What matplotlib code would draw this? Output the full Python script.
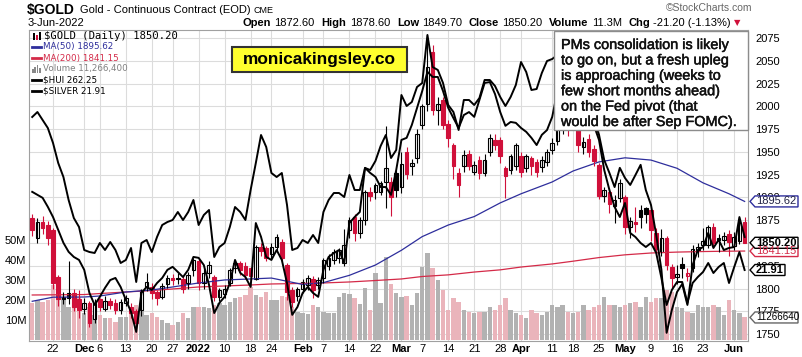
import numpy as np
import pandas as pd
import matplotlib
matplotlib.use("Agg")
import matplotlib.pyplot as plt
import matplotlib.patheffects as pe
from matplotlib.patches import Polygon, Rectangle
from matplotlib.lines import Line2D
from matplotlib.transforms import IdentityTransform

plt.rcParams["font.family"] = ["Liberation Sans", "DejaVu Sans"]

# ── data ───────────────────────────────────────────────────────────────────
START, END = "2021-11-16", "2022-06-03"
HOLIDAYS = ["2021-11-25", "2021-12-24", "2022-01-17", "2022-02-21",
            "2022-04-15", "2022-05-30"]
PREV_CLOSE = 1868.0

opens = [
    1877, 1855, 1873, 1870, 1864, 1813, 1791, 1795, 1795, 1788,
    1778, 1784, 1767, 1788, 1778, 1786, 1784, 1776, 1784, 1780,
    1775, 1776, 1802, 1802, 1796, 1791, 1805, 1812, 1812, 1810,
    1806, 1820, 1830, 1806, 1817, 1813, 1791, 1794, 1806, 1823,
    1828, 1825, 1822, 1811, 1846, 1844, 1838, 1846, 1851, 1826,
    1798, 1792, 1800, 1804, 1811, 1804, 1812, 1825, 1831, 1834,
    1828, 1864, 1879, 1861, 1875, 1906, 1906, 1906, 1917, 1917,
    1927, 1912, 1950, 1934, 1943, 1980, 2003, 2060, 1996, 2007,
    1981, 1958, 1927, 1934, 1948, 1928, 1941, 1927, 1950, 1963,
    1963, 1932, 1930, 1934, 1946, 1932, 1943, 1939, 1933, 1939,
    1952, 1962, 1977, 1983, 1978, 1985, 1955, 1964, 1953, 1936,
    1902, 1906, 1891, 1899, 1900, 1868, 1873, 1886, 1888, 1886,
    1861, 1840, 1855, 1824, 1813, 1827, 1814, 1823, 1842, 1848,
    1848, 1868, 1856, 1853, 1860, 1847, 1852, 1872.6]
highs = [
    1882, 1877, 1880, 1874, 1866, 1815, 1796, 1830, 1800, 1798,
    1790, 1786, 1788, 1790, 1792, 1790, 1788, 1789, 1793, 1784,
    1777, 1800, 1817, 1806, 1798, 1806, 1815, 1816, 1817, 1814,
    1818, 1834, 1833, 1823, 1830, 1815, 1801, 1804, 1822, 1830,
    1830, 1829, 1824, 1848, 1850, 1847, 1850, 1860, 1854, 1828,
    1802, 1802, 1810, 1815, 1814, 1813, 1834, 1838, 1843, 1845,
    1865, 1878, 1882, 1878, 1908, 1912, 1916, 1918, 1978, 1922,
    1930, 1950, 1955, 1942, 1975, 2003, 2079, 2067, 2010, 2010,
    1985, 1960, 1932, 1952, 1952, 1940, 1945, 1948, 1970, 1970,
    1966, 1935, 1948, 1960, 1950, 1948, 1946, 1942, 1945, 1953,
    1965, 1982, 1990, 1988, 2003, 1990, 1966, 1970, 1958, 1938,
    1912, 1910, 1903, 1920, 1903, 1878, 1890, 1892, 1890, 1889,
    1866, 1865, 1858, 1827, 1826, 1835, 1822, 1848, 1850, 1866,
    1870, 1872, 1860, 1862, 1864, 1862, 1874, 1878.6]
lows = [
    1858, 1850, 1860, 1848, 1800, 1781, 1783, 1783, 1775, 1768,
    1772, 1758, 1762, 1775, 1775, 1778, 1772, 1772, 1781, 1768,
    1753, 1770, 1797, 1788, 1782, 1788, 1801, 1804, 1805, 1795,
    1800, 1814, 1798, 1800, 1812, 1786, 1786, 1790, 1803, 1817,
    1815, 1810, 1809, 1809, 1836, 1830, 1832, 1840, 1830, 1787,
    1780, 1786, 1795, 1798, 1790, 1800, 1806, 1820, 1827, 1828,
    1825, 1855, 1852, 1855, 1870, 1896, 1898, 1903, 1888, 1880,
    1900, 1905, 1920, 1925, 1938, 1975, 1995, 1990, 1980, 1975,
    1955, 1920, 1900, 1928, 1930, 1925, 1920, 1924, 1945, 1952,
    1938, 1899, 1926, 1930, 1922, 1928, 1925, 1922, 1928, 1935,
    1948, 1958, 1970, 1967, 1975, 1950, 1948, 1944, 1935, 1898,
    1895, 1883, 1872, 1895, 1860, 1855, 1862, 1866, 1872, 1852,
    1836, 1836, 1820, 1800, 1805, 1812, 1808, 1818, 1835, 1842,
    1845, 1845, 1840, 1848, 1836, 1842, 1849, 1849.7]
closes = [
    1864, 1873, 1866, 1855, 1806, 1788, 1789, 1790, 1780, 1776,
    1784, 1762, 1784, 1780, 1786, 1782, 1776, 1785, 1790, 1773,
    1762, 1798, 1807, 1795, 1790, 1803, 1812, 1809, 1811, 1800,
    1815, 1831, 1806, 1817, 1826, 1791, 1798, 1800, 1820, 1828,
    1820, 1815, 1814, 1846, 1841, 1833, 1846, 1857, 1833, 1796,
    1785, 1800, 1807, 1812, 1798, 1809, 1831, 1834, 1840, 1842,
    1848, 1875, 1861, 1875, 1906, 1902, 1914, 1916, 1932, 1900,
    1908, 1937, 1926, 1938, 1970, 2000, 2043, 1996, 2003, 1980,
    1965, 1934, 1914, 1947, 1934, 1936, 1927, 1941, 1965, 1958,
    1945, 1923, 1945, 1958, 1928, 1945, 1934, 1928, 1941, 1950,
    1960, 1980, 1985, 1975, 1986, 1958, 1961, 1950, 1940, 1902,
    1908, 1893, 1897, 1916, 1868, 1874, 1871, 1878, 1882, 1864,
    1843, 1855, 1826, 1812, 1816, 1823, 1817, 1843, 1846, 1852,
    1867, 1850, 1853, 1858, 1851, 1857, 1871.4, 1850.2]
volume_m = [
    18.5, 20, 19, 20, 27.5, 25, 21.7, 16.7, 20, 21.7,
    13.3, 16.7, 12.5, 12.5, 10.8, 10.8, 9.2, 11.7, 11.5, 15,
    17.5, 15, 12.5, 13.3, 11.7, 10, 8.3, 7.5, 9.2, 13.3,
    10.8, 16.7, 16.7, 16.7, 15.8, 17.5, 18.3, 17.5, 19.2, 20.8,
    21.7, 22.5, 26.7, 22.5, 21.7, 24.2, 20, 20, 22, 21.7,
    16.7, 14.2, 13.3, 13, 17.5, 16.7, 14.2, 13.3, 13.3, 21.7,
    23.3, 23, 21, 18, 25.8, 15, 33.3, 18.3, 41.7, 28,
    23.5, 21.7, 22, 17.5, 23.3, 36.7, 43.3, 35.8, 30, 25,
    15, 20.8, 19.2, 15, 14.2, 13.3, 14.2, 14.2, 16.7, 15,
    17.5, 20.8, 15, 13.3, 12.5, 10.8, 15, 13.3, 12.5, 14.2,
    17.5, 16.7, 17.5, 14.2, 13.3, 14.2, 17.5, 15, 16.7, 17.5,
    21.7, 17.5, 17.5, 16.7, 17.5, 18.3, 19.2, 16.7, 21.7, 19.2,
    20.8, 20.8, 25, 24, 16.7, 15.8, 14.2, 13.3, 17.5, 16.7,
    16.7, 17.5, 16.7, 12.5, 20, 15, 13.3, 11.27]
hui = [
    277.3, 276.3, 275.3, 272.3, 268.9, 264.6, 260.3, 257.3, 255.6, 254.6,
    251.3, 243.6, 239.6, 242.3, 245.3, 247.9, 248.6, 245.6, 241.3, 237.3,
    230.6, 243.6, 245.6, 244.6, 246.9, 248.6, 251.3, 252.3, 250.6, 248.9,
    251.3, 255.6, 255.3, 252.9, 246.3, 236.9, 240.3, 242.3, 246.9, 254.6,
    250.3, 248.9, 245.6, 266.9, 262.3, 255.6, 254.6, 257.9, 254.6, 246.9,
    236.3, 238.9, 243.6, 245.6, 243.6, 242.3, 251.3, 255.6, 256.9, 257.9,
    253.6, 266.9, 268.9, 270.6, 285.3, 283.6, 282.3, 278.9, 278.9, 276.3,
    284.6, 294.6, 295.3, 299.6, 305.3, 310.9, 317.3, 315.6, 315.6, 310.9,
    305.3, 301.9, 298.6, 302.9, 303.9, 302.3, 307.9, 313.6, 313.9, 309.9,
    303.9, 299.3, 300.6, 300.3, 298.6, 297.3, 295.3, 292.9, 296.3, 297.9,
    302.3, 310.9, 324.6, 327.9, 328.6, 322.9, 317.9, 309.6, 301.3, 296.3,
    287.9, 283.6, 278.9, 285.3, 281.9, 279.6, 282.9, 286.3, 277.9, 272.9,
    262.9, 251.3, 230.3, 237.9, 243.9, 246.6, 239.6, 252.9, 257.9, 258.9,
    263.6, 258.6, 261.3, 257.9, 258.6, 258.9, 268.9, 262.25]
silver = [
    24.97, 25.07, 24.91, 24.75, 24.45, 24.05, 23.77, 23.31, 22.95, 22.77,
    22.31, 22.27, 22.25, 22.45, 22.31, 22.47, 22.31, 22.05, 22.11, 22.35,
    21.67, 22.45, 22.51, 22.27, 22.57, 22.81, 22.87, 22.91, 23.07, 22.91,
    23.07, 23.31, 22.81, 23.01, 23.11, 22.17, 22.37, 22.45, 22.77, 23.17,
    23.07, 22.91, 23.51, 24.05, 24.61, 24.37, 23.85, 23.77, 23.85, 23.21,
    22.31, 22.35, 22.51, 22.45, 22.61, 22.45, 23.07, 23.31, 23.45, 23.45,
    23.37, 23.81, 23.51, 23.51, 23.95, 23.91, 24.09, 24.39, 24.61, 24.15,
    24.31, 25.41, 25.19, 25.27, 25.57, 25.65, 26.61, 25.97, 25.91, 25.65,
    25.21, 25.07, 24.71, 25.31, 25.31, 25.21, 25.35, 25.71, 25.71, 25.59,
    25.37, 25.19, 25.37, 25.61, 26.07, 25.87, 25.51, 25.53, 25.85, 26.09,
    26.13, 26.21, 26.27, 26.41, 26.41, 26.07, 25.81, 25.31, 24.81, 24.51,
    23.91, 23.51, 23.17, 22.97, 23.25, 22.65, 22.57, 22.45, 22.37, 22.45,
    22.25, 21.75, 21.21, 21.51, 21.67, 21.67, 21.25, 21.65, 21.77, 21.87,
    22.05, 21.85, 21.97, 22.05, 21.65, 21.97, 22.27, 21.91]

ma_dates = ["2021-11-16", "2021-11-22", "2021-12-01", "2021-12-06", "2021-12-13",
            "2021-12-20", "2021-12-27", "2022-01-03", "2022-01-10", "2022-01-18",
            "2022-01-24", "2022-02-01", "2022-02-07", "2022-02-14", "2022-02-22",
            "2022-03-01", "2022-03-07", "2022-03-14", "2022-03-21", "2022-03-28",
            "2022-04-01", "2022-04-11", "2022-04-18", "2022-04-25", "2022-05-02",
            "2022-05-09", "2022-05-16", "2022-05-23", "2022-05-31", "2022-06-03"]
ma50 = [1786, 1790.5, 1790.7, 1791.8, 1796.2, 1798.4, 1801.7, 1806.1, 1809.4, 1810.5,
        1811.5, 1804.5, 1806.5, 1814.5, 1825.8, 1842, 1857, 1869.7, 1879, 1894,
        1904, 1917, 1929, 1939, 1943.5, 1941, 1932, 1916, 1904, 1895.62]
ma200 = [1792.9, 1793.1, 1793.4, 1794.5, 1796.2, 1797.8, 1799.5, 1801.7, 1802.8, 1803.9,
         1805, 1805.6, 1806.1, 1807.2, 1808.8, 1810.5, 1813.2, 1815, 1818.1, 1820.5,
         1823.6, 1827, 1830, 1834, 1837, 1839, 1840, 1840.6, 1841, 1841.15]

tick_dates = ["2021-11-22", "2021-12-01", "2021-12-06", "2021-12-13", "2021-12-20",
              "2021-12-27", "2022-01-03", "2022-01-10", "2022-01-18", "2022-01-24",
              "2022-02-01", "2022-02-07", "2022-02-14", "2022-02-22", "2022-03-01",
              "2022-03-07", "2022-03-14", "2022-03-21", "2022-03-28", "2022-04-01",
              "2022-04-11", "2022-04-18", "2022-04-25", "2022-05-02", "2022-05-09",
              "2022-05-16", "2022-05-23", "2022-06-01"]
tick_labels = ["22", "Dec", "6", "13", "20", "27", "2022", "10", "18", "24",
               "Feb", "7", "14", "22", "Mar", "7", "14", "21", "28", "Apr",
               "11", "18", "25", "May", "9", "16", "23", "Jun"]

note_lines = ["PMs consolidation is likely",
              "to go on, but a fresh upleg",
              "is approaching (weeks to",
              "few short months ahead)",
              "on the Fed pivot (that",
              "would be after Sep FOMC)."]

# ── styling ────────────────────────────────────────────────────────────────
RED = "#d0103a"
PINK = "#eab4bb"
VOL_GRAY = "#b2b2b2"
BLUE = "#2e2e9c"
MA200_RED = "#d42a48"

W, H = 803, 357
PRICE_LIM = (1742.4, 2083.8)
VOL_LIM = (-0.5, 155)
SILVER_LIM = (20.49, 26.71)
HUI_LIM = (227.58, 331.25)

dates = pd.bdate_range(START, END)
dates = dates[~dates.isin(pd.to_datetime(HOLIDAYS))]
x = np.arange(len(dates))
pos = {d.strftime("%Y-%m-%d"): i for i, d in enumerate(dates)}

o, hi, lo, c = map(np.asarray, (opens, highs, lows, closes))
prev = np.r_[PREV_CLOSE, c[:-1]]
down = c < prev
edge = np.where(down, RED, "black")
fill = np.where(c >= o, "white", edge)
vol_col = np.where(down, PINK, VOL_GRAY)


def fpx(xp, yp):
    """pixel position measured from the top-left -> figure fraction"""
    return xp / W, 1 - yp / H


fig = plt.figure(figsize=(W / 100, H / 100), dpi=100)
rect = [29 / W, 1 - 341 / H, 719 / W, 311 / H]

# base axes: background, grid, frame, tick labels
ax = fig.add_axes(rect)
ax.set_xlim(-0.62, 137.65)
ax.set_ylim(*PRICE_LIM)
price_ticks = np.arange(1750, 2076, 25)
ax.set_yticks(price_ticks)
# 1850 sits fully under the last-close tag, as on the reference
ax.set_yticklabels(["" if v == 1850 else str(v) for v in price_ticks])
ax.yaxis.tick_right()
ax.tick_params(axis="y", length=0, pad=5, labelsize=8)
ax.set_xticks([pos[d] for d in tick_dates])
ax.set_xticklabels(tick_labels)
ax.tick_params(axis="x", length=0, pad=2, labelsize=8)
for lbl in ax.get_xticklabels():
    if not lbl.get_text().isdigit() or lbl.get_text() == "2022":
        lbl.set_fontweight("bold")
ax.grid(True, color="#dcdcdc", lw=0.8)
for s in ax.spines.values():
    s.set_color("#a0a0a0")
    s.set_linewidth(0.8)

# volume
axv = fig.add_axes(rect, sharex=ax)
axv.patch.set_visible(False)
axv.set_ylim(*VOL_LIM)
axv.bar(x, volume_m, width=0.86, color=vol_col, lw=0)
for s in axv.spines.values():
    s.set_visible(False)
axv.set_yticks([10, 20, 30, 40, 50])
axv.set_yticklabels([f"{v}M" for v in (10, 20, 30, 40, 50)])
axv.tick_params(axis="y", length=0, pad=2, labelsize=8)
axv.tick_params(axis="x", bottom=False, labelbottom=False)

# price: moving averages + candles
axp = fig.add_axes(rect, sharex=ax, sharey=ax)
axp.axis("off")
ma_x = [pos[d] for d in ma_dates]
axp.plot(ma_x, ma200, color=MA200_RED, lw=0.9)
axp.plot(ma_x, ma50, color=BLUE, lw=0.9)
axp.vlines(x, lo, hi, colors=edge, lw=0.8)
axp.bar(x, np.maximum(np.abs(c - o), 0.6), bottom=np.minimum(o, c),
        width=0.72, color=fill, edgecolor=edge, lw=0.8)

# overlays
axs = fig.add_axes(rect, sharex=ax)
axs.axis("off")
axs.set_ylim(*SILVER_LIM)
axs.plot(x, silver, color="black", lw=1.4)
axh = fig.add_axes(rect, sharex=ax)
axh.axis("off")
axh.set_ylim(*HUI_LIM)
axh.plot(x, hui, color="black", lw=1.4)

# ── right-hand value tags ──────────────────────────────────────────────────
def value_tag(axis, value, text, edgecol, txtcol="black", bold=False,
              right=798, size=8):
    yd = axis.transData.transform((0, value))[1]
    h = 5.5
    pts = [(750, yd), (755, yd + h), (right, yd + h), (right, yd - h), (755, yd - h)]
    fig.add_artist(Polygon(pts, closed=True, transform=IdentityTransform(),
                           facecolor="white", edgecolor=edgecol, lw=1, zorder=10))
    fig.text(756 / W, yd / H, text, va="center", ha="left", fontsize=size,
             color=txtcol, fontweight="bold" if bold else "normal", zorder=11)


value_tag(axp, 1895.62, "1895.62", BLUE, "#222244")
value_tag(axp, 1841.15, "1841.15", MA200_RED, MA200_RED)
value_tag(axp, 1850.20, "1850.20", "black", bold=True)
value_tag(axs, 21.91, "21.91", "black", bold=True, right=785)
value_tag(axv, 11.26664, "11266640", "#666666", size=7.1)

# ── header ─────────────────────────────────────────────────────────────────
fig.text(*fpx(27, 10), "$GOLD", fontsize=10, fontweight="bold", va="center")
fig.text(*fpx(80, 10), "Gold - Continuous Contract (EOD)", fontsize=8, va="center")
fig.text(*fpx(254, 10.5), "CME", fontsize=6.5, va="center")
fig.text(*fpx(28, 23), "3-Jun-2022", fontsize=8, va="center")
fig.text(*fpx(752, 8), "\u00a9StockCharts.com", fontsize=7.5, va="center",
         ha="right", color="#666666")

renderer = fig.canvas.get_renderer()
pieces = [("Open", True, "black", 3), ("1872.60", False, "black", 7),
          ("High", True, "black", 3), ("1878.60", False, "black", 7),
          ("Low", True, "black", 3), ("1849.70", False, "black", 7),
          ("Close", True, "black", 3), ("1850.20", False, "black", 7),
          ("Volume", True, "black", 3), ("11.3M", False, "black", 7),
          ("Chg", True, "black", 3), ("-21.20 (-1.13%)", False, "black", 3),
          ("\u25bc", False, RED, 0)]
xcur = 243
for txt, bold, col, gap in pieces:
    t = fig.text(*fpx(xcur, 23), txt, fontsize=8, va="center", color=col,
                 fontweight="bold" if bold else "normal",
                 family=["Liberation Sans", "DejaVu Sans"] if txt != "\u25bc" else "DejaVu Sans")
    if txt == "\u25bc":
        t.set_fontsize(6)
    xcur += t.get_window_extent(renderer).width + gap

# ── legend inside the chart ────────────────────────────────────────────────
def marker(y, col, lw=2.0):
    yd = H - y
    fig.add_artist(Line2D([32, 41], [yd, yd], color=col, lw=lw,
                          transform=IdentityTransform(), zorder=8))


for k, (xx, hh, col) in enumerate([(33, 7, "black"), (36, 5, RED), (39, 8, "black")]):
    fig.add_artist(Rectangle((xx, H - 40), 2, hh, transform=IdentityTransform(),
                             facecolor=col, lw=0, zorder=8))
fig.text(*fpx(44, 36), "$GOLD (Daily) 1850.20", family="DejaVu Sans Mono",
         fontsize=7.6, va="center")
marker(47, BLUE)
fig.text(*fpx(43, 47), "MA(50) 1895.62", family="DejaVu Sans", fontsize=6.3,
         color=BLUE, va="center")
marker(58, MA200_RED)
fig.text(*fpx(43, 58), "MA(200) 1841.15", family="DejaVu Sans", fontsize=6.3,
         color=MA200_RED, va="center")
for k, hh in enumerate([4, 6, 8, 5]):
    fig.add_artist(Rectangle((32 + 2.3 * k, H - 73), 1.8, hh, transform=IdentityTransform(),
                             facecolor="#888888", lw=0, zorder=8))
fig.text(*fpx(43, 69), "Volume 11,266,400", family="DejaVu Sans", fontsize=6.3,
         color="#808080", va="center")
marker(80, "black")
fig.text(*fpx(43, 80), "$HUI 262.25", family="DejaVu Sans", fontsize=6.3, va="center")
marker(91, "black")
fig.text(*fpx(43, 91), "$SILVER 21.91", family="DejaVu Sans", fontsize=6.3, va="center")

# ── annotation boxes ───────────────────────────────────────────────────────
fig.add_artist(Rectangle(fpx(232, 72), 175 / W, 25 / H, transform=fig.transFigure,
                         facecolor="#ffff2e", edgecolor="#333333", lw=1.5, zorder=8))
fig.text(*fpx(319.5, 59.5), "monicakingsley.co", fontsize=12.4, fontweight="bold",
         ha="center", va="center", zorder=9)

fig.add_artist(Rectangle(fpx(554, 130), 194 / W, 99 / H, transform=fig.transFigure,
                         facecolor="white", edgecolor="#8c8c8c", lw=1, zorder=8))
for k, line in enumerate(note_lines):
    fig.text(*fpx(561, 45 + 15.4 * k), line, fontsize=10.4, va="center",
             color="#111111", zorder=9,
             path_effects=[pe.withStroke(linewidth=0.35, foreground="#111111")])

fig.savefig("out.png", dpi=100)
